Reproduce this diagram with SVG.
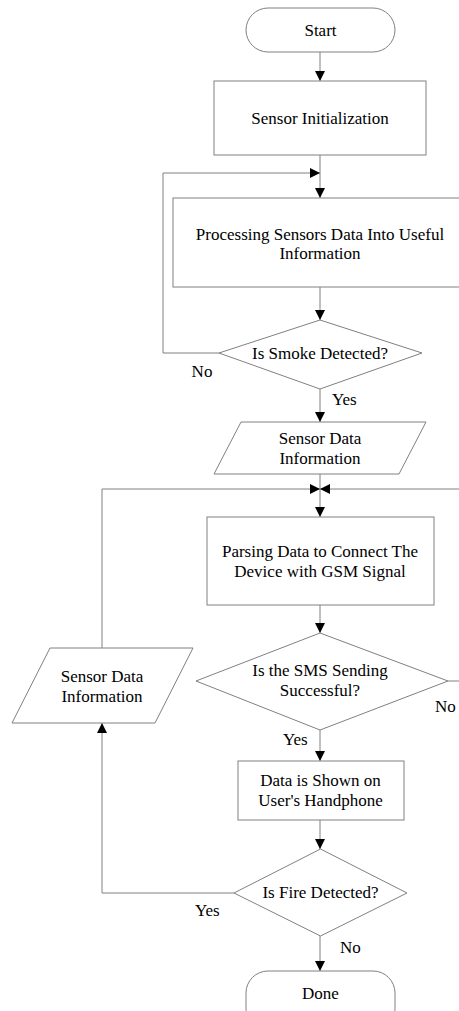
<svg xmlns="http://www.w3.org/2000/svg" width="459" height="1011" viewBox="0 0 459 1011" font-family="'Liberation Serif', serif">
<style>
.shape{fill:#ffffff;stroke:#808080;stroke-width:1}
.conn{fill:none;stroke:#808080;stroke-width:1}
text{font-family:'Liberation Serif', serif;font-size:17px;fill:#000}
.c{text-anchor:middle}
</style>
<defs>
<marker id="arr" viewBox="0 0 10 10" refX="10" refY="5" markerWidth="11" markerHeight="10" markerUnits="userSpaceOnUse" orient="auto">
<path d="M0,0 L10,5 L0,10 z" fill="#000"/>
</marker>
</defs>
<rect width="459" height="1011" fill="#fff"/>
<g id="connectors">
<path class="conn" d="M320,52 V81" marker-end="url(#arr)"/>
<path class="conn" d="M320,155 V198" marker-end="url(#arr)"/>
<path class="conn" d="M219,353 H163 V173 H320" marker-end="url(#arr)"/>
<path class="conn" d="M320,287 V320" marker-end="url(#arr)"/>
<path class="conn" d="M320,389 V422" marker-end="url(#arr)"/>
<path class="conn" d="M320,474 V517" marker-end="url(#arr)"/>
<path class="conn" d="M102,648 V489 H320" marker-end="url(#arr)"/>
<path class="conn" d="M448,681 H470 V489 H320" marker-end="url(#arr)"/>
<path class="conn" d="M320,605 V633" marker-end="url(#arr)"/>
<path class="conn" d="M320,730 V761" marker-end="url(#arr)"/>
<path class="conn" d="M320,820 V849" marker-end="url(#arr)"/>
<path class="conn" d="M234,893 H102 V723" marker-end="url(#arr)"/>
<path class="conn" d="M320,936 V971" marker-end="url(#arr)"/>
<text x="202" y="377" class="c">No</text>
<text x="332" y="405">Yes</text>
<text x="435" y="712">No</text>
<text x="283" y="745">Yes</text>
<text x="195" y="916">Yes</text>
<text x="340" y="953">No</text>
</g>
<g id="start">
<rect class="shape" x="246" y="8" width="149" height="44" rx="22" ry="22"/>
<text x="320.5" y="36" class="c">Start</text>
</g>
<g id="sensor-init">
<rect class="shape" x="214" y="81" width="212" height="74"/>
<text x="320" y="124" class="c">Sensor Initialization</text>
</g>
<g id="processing">
<rect class="shape" x="173" y="198" width="290" height="89"/>
<text x="320" y="240" class="c">Processing Sensors Data Into Useful</text>
<text x="320" y="259" class="c">Information</text>
</g>
<g id="smoke">
<polygon class="shape" points="320,320 422,353 320,389 219,353"/>
<text x="320" y="359" class="c">Is Smoke Detected?</text>
</g>
<g id="sensor-data-1">
<polygon class="shape" points="241,422 426,422 399,474 214,474"/>
<text x="320" y="444" class="c">Sensor Data</text>
<text x="320" y="464" class="c">Information</text>
</g>
<g id="parsing">
<rect class="shape" x="207" y="517" width="227" height="88"/>
<text x="320" y="557" class="c">Parsing Data to Connect The</text>
<text x="320" y="577" class="c">Device with GSM Signal</text>
</g>
<g id="sms">
<polygon class="shape" points="320,633 448,681 320,730 196,681"/>
<text x="320" y="676" class="c">Is the SMS Sending</text>
<text x="320" y="696" class="c">Successful?</text>
</g>
<g id="sensor-data-2">
<polygon class="shape" points="50,648 193,648 155,723 12,723"/>
<text x="102" y="682" class="c">Sensor Data</text>
<text x="102" y="702" class="c">Information</text>
</g>
<g id="shown">
<rect class="shape" x="238" y="761" width="166" height="59"/>
<text x="320.5" y="786" class="c">Data is Shown on</text>
<text x="320.5" y="806" class="c">User's Handphone</text>
</g>
<g id="fire">
<polygon class="shape" points="320.5,849 407,893 320.5,936 234,893"/>
<text x="320.5" y="898" class="c">Is Fire Detected?</text>
</g>
<g id="done">
<rect class="shape" x="246" y="971" width="149" height="60" rx="22" ry="22"/>
<text x="320.5" y="999" class="c">Done</text>
</g>
</svg>
